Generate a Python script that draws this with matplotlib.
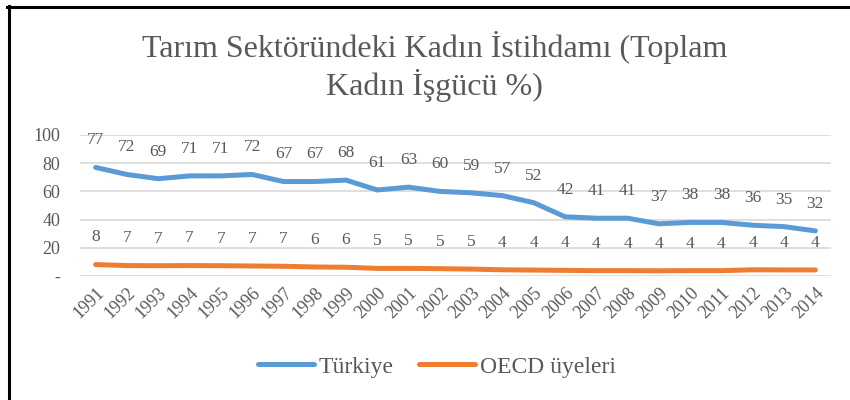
import matplotlib
matplotlib.use("Agg")
import matplotlib.pyplot as plt
from matplotlib.lines import Line2D
import numpy as np

years = [str(y) for y in range(1991, 2015)]
turkiye = [77, 72, 69, 71, 71, 72, 67, 67, 68, 61, 63, 60,
           59, 57, 52, 42, 41, 41, 37, 38, 38, 36, 35, 32]
oecd = [8.1, 7.4, 7.3, 7.4, 7.3, 7.1, 6.9, 6.4, 6.2, 5.4, 5.4, 5.2,
        4.9, 4.4, 4.2, 4.0, 3.8, 3.8, 3.7, 3.8, 3.8, 4.4, 4.3, 4.3]
series_names = ["Türkiye", "OECD üyeleri"]
yticks = [0, 20, 40, 60, 80, 100]
ytick_labels = ["-", "20", "40", "60", "80", "100"]

TEXT = "#595959"
BLUE = "#5B9BD5"
ORANGE = "#ED7D31"

plt.rcParams["font.family"] = ["Liberation Serif", "DejaVu Serif"]

W, H = 850, 400
fig = plt.figure(figsize=(W / 100, H / 100), dpi=100)
ax = fig.add_axes([80 / W, 1 - 276 / H, 751 / W, 141 / H])

x = np.arange(len(years))
for vals, color, name in [(turkiye, BLUE, series_names[0]), (oecd, ORANGE, series_names[1])]:
    ax.plot(x, vals, color=color, lw=3.6, solid_capstyle="round",
            solid_joinstyle="round", label=name, clip_on=False)
    for xi, v in zip(x, vals):
        ax.annotate(f"{int(v + 0.5)}", (xi, v), xytext=(0, 19.5), textcoords="offset points",
                    ha="center", va="center", fontsize=12.5, color=TEXT)

ax.set_xlim(-0.5, len(years) - 0.5)
ax.set_ylim(0, 100)
ax.set_yticks(yticks)
ax.set_yticklabels(ytick_labels)
ax.set_xticks(x)
ax.set_xticklabels(years, rotation=45, ha="right", rotation_mode="anchor")
ax.tick_params(axis="both", length=0, labelsize=13, colors=TEXT)
ax.tick_params(axis="y", pad=14)
ax.tick_params(axis="x", pad=6)
ax.grid(axis="y", color="#D9D9D9", lw=1.2)
ax.set_axisbelow(True)
for s in ax.spines.values():
    s.set_visible(False)

fig.text(0.511, 1 - 48 / H, "Tarım Sektöründeki Kadın İstihdamı (Toplam",
         ha="center", va="center", fontsize=23, color=TEXT)
fig.text(0.511, 1 - 85 / H, "Kadın İşgücü %)",
         ha="center", va="center", fontsize=23, color=TEXT)

fig.legend(loc="center", bbox_to_anchor=(0.514, 1 - 367 / H), ncol=2, frameon=False,
           fontsize=17, labelcolor=TEXT, handlelength=2.35, handletextpad=0.2,
           columnspacing=1.1)

# outer frame (top and left edges only)
fig.add_artist(Line2D([7 / W, 1], [1 - 6.5 / H, 1 - 6.5 / H], color="black", lw=2.2,
                      transform=fig.transFigure))
fig.add_artist(Line2D([8.5 / W, 8.5 / W], [0, 1 - 5.5 / H], color="black", lw=2.2,
                      transform=fig.transFigure))

fig.savefig("out.png", dpi=100)
